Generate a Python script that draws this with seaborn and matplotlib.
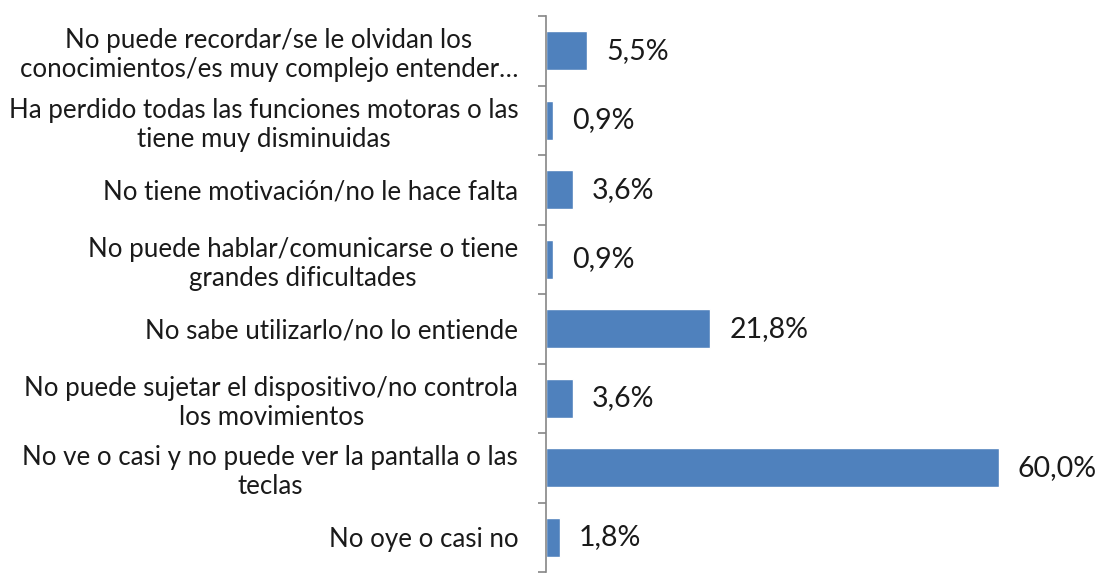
import matplotlib
matplotlib.use("Agg")
import matplotlib.pyplot as plt
import seaborn as sns
import pandas as pd
import numpy as np

# Reasons for not using the device, share of respondents (%)
categories = [
    "No puede recordar/se le olvidan los\nconocimientos/es muy complejo entender…",
    "Ha perdido todas las funciones motoras o las\ntiene muy disminuidas",
    "No tiene motivación/no le hace falta",
    "No puede hablar/comunicarse o tiene\ngrandes dificultades",
    "No sabe utilizarlo/no lo entiende",
    "No puede sujetar el dispositivo/no controla\nlos movimientos",
    "No ve o casi y no puede ver la pantalla o las\nteclas",
    "No oye o casi no",
]
values = [5.5, 0.9, 3.6, 0.9, 21.8, 3.6, 60.0, 1.8]
value_labels = ["5,5%", "0,9%", "3,6%", "0,9%", "21,8%", "3,6%", "60,0%", "1,8%"]

df = pd.DataFrame({"motivo": categories, "pct": values})

sns.set_theme(style="white")
plt.rcParams["font.family"] = ["Lato", "DejaVu Sans"]

fig = plt.figure(figsize=(10.98, 5.74), dpi=100)
ax = fig.add_axes([546 / 1098, 2 / 574, (1074 - 546) / 1098, (572 - 16) / 574])

sns.barplot(data=df, x="pct", y="motivo", orient="h", color="#4F81BD",
            width=0.56, ax=ax, saturation=1)

ax.set_xlim(0, 70)
ax.set_ylim(len(categories) - 0.5, -0.5)
ax.set_xlabel("")
ax.set_ylabel("")
ax.set_xticks([])

# category labels at bar centres, tick marks at category boundaries
ax.set_yticks(np.arange(len(categories)))
ax.set_yticklabels(categories, fontsize=18.6, color="#1a1a1a",
                   multialignment="center", linespacing=1.2)
ax.tick_params(axis="y", which="major", length=0, pad=20)
ax.set_yticks(np.arange(-0.5, len(categories), 1.0), minor=True)
ax.tick_params(axis="y", which="minor", length=5.5, width=1.2,
               color="#868686", left=True)

for side in ["top", "right", "bottom"]:
    ax.spines[side].set_visible(False)
ax.spines["left"].set_color("#868686")
ax.spines["left"].set_linewidth(1.2)

for i, (v, lab) in enumerate(zip(values, value_labels)):
    ax.text(v + 2.5, i, lab, va="center", ha="left", fontsize=20.5,
            color="#1a1a1a")

fig.savefig("out.png", dpi=100)
